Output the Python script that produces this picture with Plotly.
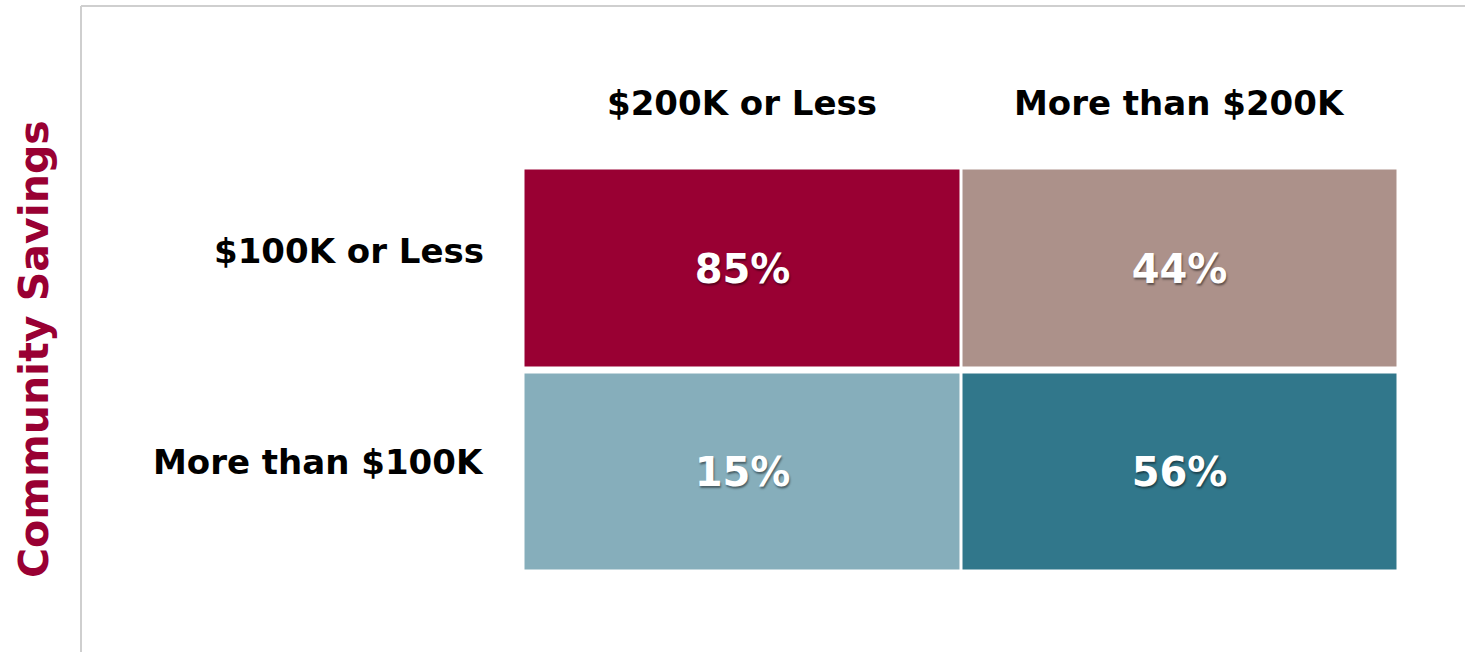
import plotly.graph_objects as go

# Household income (columns) vs community savings (rows)
col_labels = ["$200K or Less", "More than $200K"]
row_labels = ["$100K or Less", "More than $100K"]
shares = [[85, 44],
          [15, 56]]
axis_title = "Community Savings"

W, H = 1465, 652

def px_x(p):
    return p / W

def px_y(p):
    return 1 - p / H

# Each share gets its own flat colour band
colorscale = [
    [0.0, "#86AEBB"], [0.2, "#86AEBB"],
    [0.2, "#AC918A"], [0.5, "#AC918A"],
    [0.5, "#31778B"], [0.8, "#31778B"],
    [0.8, "#990033"], [1.0, "#990033"],
]

FONT = "DejaVu Sans"

fig = go.Figure(go.Heatmap(
    x=col_labels,
    y=row_labels,
    z=shares,
    zmin=15, zmax=85,
    colorscale=colorscale,
    showscale=False,
    xgap=3, ygap=7,
    texttemplate="%{z}%",
    textfont=dict(family=FONT, size=40, color="white",
                  weight="bold", shadow="1px 2px 2px rgba(0,0,0,0.45)"),
    hoverinfo="skip",
))

label_font = dict(family=FONT, size=34, color="black", weight="bold")

# Column headers above the grid
for c in col_labels:
    fig.add_annotation(x=c, xref="x", y=px_y(103), yref="paper",
                       text=c, showarrow=False, font=label_font,
                       xanchor="center", yanchor="middle")

# Row headers, right-aligned left of the grid
row_y = [251, 462]
for r, py in zip(row_labels, row_y):
    fig.add_annotation(x=px_x(486), xref="paper", y=px_y(py), yref="paper",
                       text=r, showarrow=False, font=label_font,
                       xanchor="right", yanchor="middle")

# Rotated axis title
fig.add_annotation(x=px_x(34), xref="paper", y=px_y(349), yref="paper",
                   text=axis_title, textangle=-90, showarrow=False,
                   font=dict(family=FONT, size=41, color="#990033",
                             weight="bold"),
                   xanchor="center", yanchor="middle")

# Frame lines along the top and left
frame = dict(color="#CFCFCF", width=2)
fig.add_shape(type="line", xref="paper", yref="paper",
              x0=px_x(81), x1=px_x(81), y0=px_y(6), y1=px_y(H), line=frame)
fig.add_shape(type="line", xref="paper", yref="paper",
              x0=px_x(81), x1=1, y0=px_y(6), y1=px_y(6), line=frame)

fig.update_layout(
    width=W, height=H,
    margin=dict(l=0, r=0, t=0, b=0),
    paper_bgcolor="white",
    plot_bgcolor="white",
    xaxis=dict(domain=[px_x(523.5), px_x(1398.5)], visible=False,
               fixedrange=True),
    yaxis=dict(domain=[px_y(573.5), px_y(166.5)], visible=False,
               autorange="reversed", fixedrange=True),
)

fig.write_html("out.html")
